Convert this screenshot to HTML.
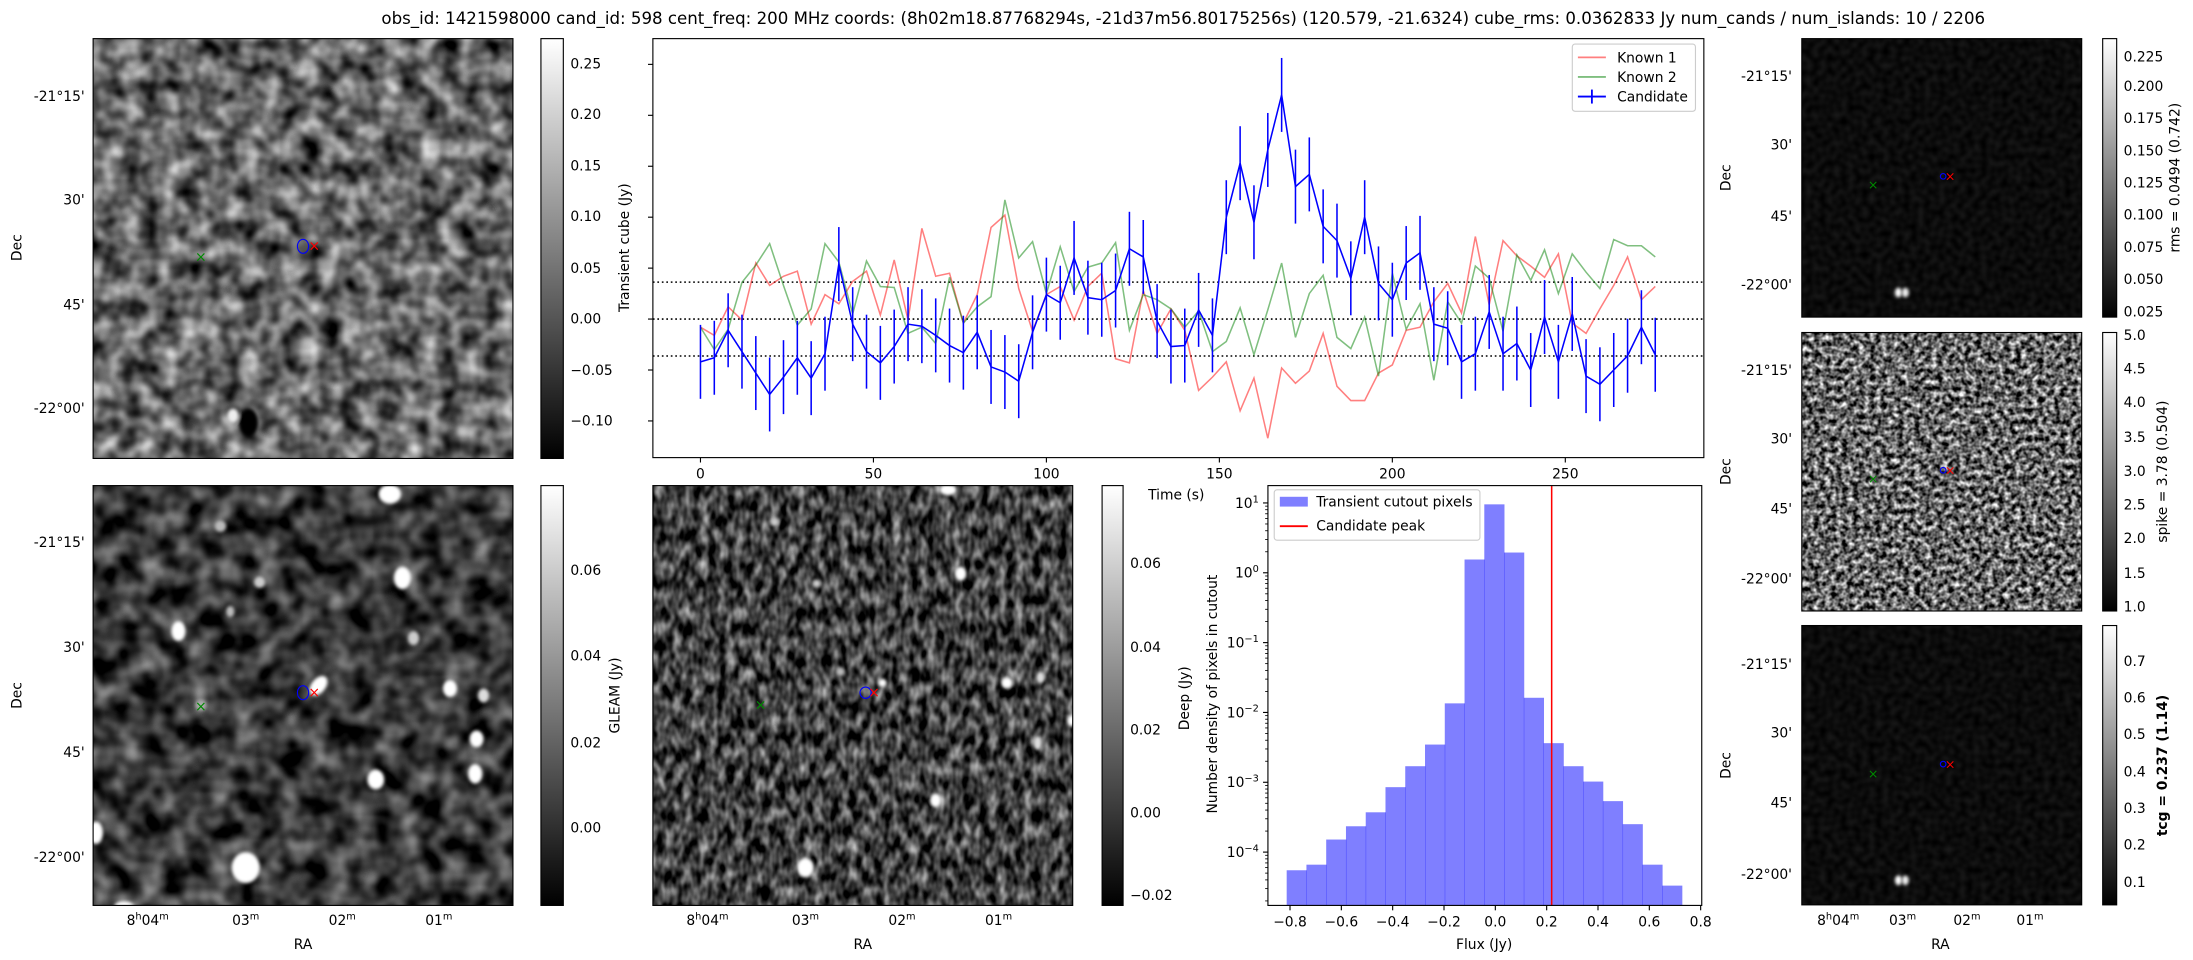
<!DOCTYPE html>
<html><head><meta charset="utf-8"><style>
html,body{margin:0;padding:0;background:#fff;}
svg{display:block;font-family:"DejaVu Sans","Liberation Sans",sans-serif;}
</style></head><body>
<svg id="fig" width="2193" height="960" viewBox="0 0 1566 686" xmlns="http://www.w3.org/2000/svg">
<defs>
<filter id="fA" color-interpolation-filters="sRGB" filterUnits="userSpaceOnUse" x="66" y="27.6" width="300" height="300"><feTurbulence type="fractalNoise" baseFrequency="0.07" numOctaves="2" seed="3"/><feColorMatrix type="matrix" values="1.2 0 0 0 -0.2  1.2 0 0 0 -0.2  1.2 0 0 0 -0.2  0 0 0 0 1"/></filter>
<filter id="fB" color-interpolation-filters="sRGB" filterUnits="userSpaceOnUse" x="66" y="347" width="300" height="300"><feTurbulence type="fractalNoise" baseFrequency="0.06" numOctaves="2" seed="7"/><feColorMatrix type="matrix" values="1.0 0 0 0 -0.28  1.0 0 0 0 -0.28  1.0 0 0 0 -0.28  0 0 0 0 1"/></filter>
<filter id="fC" color-interpolation-filters="sRGB" filterUnits="userSpaceOnUse" x="466" y="347" width="300" height="300"><feTurbulence type="fractalNoise" baseFrequency="0.16 0.09" numOctaves="2" seed="11"/><feColorMatrix type="matrix" values="1.2 0 0 0 -0.35  1.2 0 0 0 -0.35  1.2 0 0 0 -0.35  0 0 0 0 1"/></filter>
<filter id="fM" color-interpolation-filters="sRGB" filterUnits="userSpaceOnUse" x="1287" y="237.6" width="200" height="199"><feTurbulence type="fractalNoise" baseFrequency="0.25" numOctaves="2" seed="5"/><feColorMatrix type="matrix" values="1.8 0 0 0 -0.5  1.8 0 0 0 -0.5  1.8 0 0 0 -0.5  0 0 0 0 1"/></filter>
<filter id="fD1" color-interpolation-filters="sRGB" filterUnits="userSpaceOnUse" x="1287" y="27.6" width="200" height="199"><feTurbulence type="fractalNoise" baseFrequency="0.2" numOctaves="1" seed="9"/><feColorMatrix type="matrix" values="0.15 0 0 0 -0.03  0.15 0 0 0 -0.03  0.15 0 0 0 -0.03  0 0 0 0 1"/></filter>
<filter id="fD2" color-interpolation-filters="sRGB" filterUnits="userSpaceOnUse" x="1287" y="447" width="200" height="199.6"><feTurbulence type="fractalNoise" baseFrequency="0.2" numOctaves="1" seed="13"/><feColorMatrix type="matrix" values="0.15 0 0 0 -0.03  0.15 0 0 0 -0.03  0.15 0 0 0 -0.03  0 0 0 0 1"/></filter>
<filter id="blur" x="-50%" y="-50%" width="200%" height="200%"><feGaussianBlur stdDeviation="1.2"/></filter>
<linearGradient id="gray" x1="0" y1="1" x2="0" y2="0"><stop offset="0" stop-color="#000"/><stop offset="1" stop-color="#fff"/></linearGradient>
<clipPath id="cA"><rect x="66" y="27.6" width="300" height="300"/></clipPath>
<clipPath id="cB"><rect x="66" y="347" width="300" height="300"/></clipPath>
<clipPath id="cC"><rect x="466" y="347" width="300" height="300"/></clipPath>
</defs>

<text x="845" y="17" font-size="11.9" text-anchor="middle" textLength="1146" lengthAdjust="spacingAndGlyphs">obs_id: 1421598000 cand_id: 598 cent_freq: 200 MHz coords: (8h02m18.87768294s, -21d37m56.80175256s) (120.579, -21.6324) cube_rms: 0.0362833 Jy num_cands / num_islands: 10 / 2206</text>

<!-- Panel A -->
<g>
<rect x="66" y="27.6" width="300" height="300" filter="url(#fA)"/>
<g clip-path="url(#cA)" filter="url(#blur)">
<ellipse cx="177" cy="302" rx="7" ry="10" fill="#000"/>
<ellipse cx="166" cy="297" rx="4" ry="5" fill="#eee"/>
</g>
<rect x="66" y="27.6" width="300" height="300" fill="none" stroke="#000" stroke-width="0.8"/>
<text x="143" y="187" font-size="10" fill="#080" text-anchor="middle">×</text>
<ellipse cx="216" cy="176" rx="4" ry="5" fill="none" stroke="#00f" stroke-width="0.8"/>
<text x="224" y="179" font-size="10" fill="#f00" text-anchor="middle">×</text>
</g>
<g font-size="9.9" text-anchor="end">
<text x="60" y="72">-21°15'</text><text x="60" y="146">30'</text><text x="60" y="221">45'</text><text x="60" y="295">-22°00'</text>
</g>
<text font-size="9.9" transform="translate(15,177) rotate(-90)" text-anchor="middle">Dec</text>
<g>
<rect x="386" y="27.6" width="16" height="300" fill="url(#gray)" stroke="#000" stroke-width="0.8"/>
<g font-size="9.9"><text x="407" y="49">0.25</text><text x="407" y="85">0.20</text><text x="407" y="122">0.15</text><text x="407" y="158">0.10</text><text x="407" y="195">0.05</text><text x="407" y="231">0.00</text><text x="407" y="268">−0.05</text><text x="407" y="304">−0.10</text></g>
</g>

<!-- Panel B: GLEAM -->
<g>
<rect x="66" y="347" width="300" height="300" filter="url(#fB)"/>
<g clip-path="url(#cB)" fill="#fff" filter="url(#blur)">
<ellipse cx="278" cy="353" rx="8" ry="7"/><ellipse cx="287" cy="413" rx="6" ry="8"/><ellipse cx="127" cy="451" rx="5" ry="7"/>
<ellipse cx="185" cy="416" rx="4" ry="4" fill="#ccc"/><ellipse cx="157" cy="376" rx="4" ry="4" fill="#bbb"/><ellipse cx="164" cy="437" rx="3" ry="4" fill="#bbb"/>
<ellipse cx="227" cy="490" rx="5" ry="8" transform="rotate(40 227 490)"/><ellipse cx="321" cy="492" rx="5" ry="6"/><ellipse cx="345" cy="497" rx="4" ry="5" fill="#ddd"/>
<ellipse cx="268" cy="557" rx="6" ry="7"/><ellipse cx="340" cy="528" rx="5" ry="6"/><ellipse cx="339" cy="553" rx="5" ry="7"/>
<ellipse cx="175" cy="620" rx="10" ry="11"/><ellipse cx="68" cy="595" rx="5" ry="8"/><ellipse cx="295" cy="456" rx="4" ry="5" fill="#ccc"/><ellipse cx="88" cy="648" rx="7" ry="4"/>
<ellipse cx="143" cy="504" rx="4" ry="4" fill="#aaa"/>
</g>
<rect x="66" y="347" width="300" height="300" fill="none" stroke="#000" stroke-width="0.8"/>
<text x="143" y="508" font-size="10" fill="#080" text-anchor="middle">×</text>
<ellipse cx="216" cy="495" rx="4" ry="5" fill="none" stroke="#00f" stroke-width="0.8"/>
<text x="224" y="498" font-size="10" fill="#f00" text-anchor="middle">×</text>
</g>
<g font-size="9.9" text-anchor="end">
<text x="60" y="391">-21°15'</text><text x="60" y="466">30'</text><text x="60" y="541">45'</text><text x="60" y="616">-22°00'</text>
</g>
<text font-size="9.9" transform="translate(15,497) rotate(-90)" text-anchor="middle">Dec</text>
<g font-size="9.9" text-anchor="middle">
<text x="105" y="661">8<tspan font-size="7" dy="-4">h</tspan><tspan dy="4">04</tspan><tspan font-size="7" dy="-4">m</tspan></text>
<text x="175" y="661">03<tspan font-size="7" dy="-4">m</tspan></text><text x="244" y="661">02<tspan font-size="7" dy="-4">m</tspan></text><text x="313" y="661">01<tspan font-size="7" dy="-4">m</tspan></text>
<text x="216" y="678">RA</text>
</g>
<g>
<rect x="386" y="347" width="16" height="300" fill="url(#gray)" stroke="#000" stroke-width="0.8"/>
<g font-size="9.9"><text x="407" y="411">0.06</text><text x="407" y="472">0.04</text><text x="407" y="534">0.02</text><text x="407" y="595">0.00</text></g>
<text font-size="9.9" transform="translate(442,497) rotate(-90)" text-anchor="middle">GLEAM (Jy)</text>
</g>

<!-- Panel C: Deep -->
<g>
<rect x="466" y="347" width="300" height="300" filter="url(#fC)"/>
<g clip-path="url(#cC)" fill="#fff" filter="url(#blur)">
<ellipse cx="575" cy="620" rx="6" ry="7"/><ellipse cx="668" cy="572" rx="4" ry="5"/><ellipse cx="686" cy="410" rx="4" ry="5"/><ellipse cx="677" cy="350" rx="6" ry="4"/>
<ellipse cx="719" cy="488" rx="4" ry="4"/><ellipse cx="743" cy="484" rx="3" ry="4" fill="#ddd"/><ellipse cx="741" cy="531" rx="3" ry="5" fill="#ddd"/>
<ellipse cx="553" cy="373" rx="3" ry="3" fill="#ccc"/><ellipse cx="583" cy="417" rx="3" ry="3" fill="#ccc"/><ellipse cx="630" cy="488" rx="3" ry="3"/><ellipse cx="765" cy="515" rx="3" ry="4"/>
<ellipse cx="600" cy="480" rx="3" ry="3" fill="#bbb"/>
</g>
<rect x="466" y="347" width="300" height="300" fill="none" stroke="#000" stroke-width="0.8"/>
<text x="543" y="507" font-size="10" fill="#080" text-anchor="middle">×</text>
<ellipse cx="618" cy="495" rx="4" ry="4" fill="none" stroke="#00f" stroke-width="0.8"/>
<text x="624" y="498" font-size="10" fill="#f00" text-anchor="middle">×</text>
</g>
<g font-size="9.9" text-anchor="middle">
<text x="505" y="661">8<tspan font-size="7" dy="-4">h</tspan><tspan dy="4">04</tspan><tspan font-size="7" dy="-4">m</tspan></text>
<text x="575" y="661">03<tspan font-size="7" dy="-4">m</tspan></text><text x="644" y="661">02<tspan font-size="7" dy="-4">m</tspan></text><text x="713" y="661">01<tspan font-size="7" dy="-4">m</tspan></text>
<text x="616" y="678">RA</text>
</g>
<g>
<rect x="787" y="347" width="15" height="300" fill="url(#gray)" stroke="#000" stroke-width="0.8"/>
<g font-size="9.9"><text x="807" y="406">0.06</text><text x="807" y="466">0.04</text><text x="807" y="525">0.02</text><text x="807" y="584">0.00</text><text x="807" y="643">−0.02</text></g>
<text font-size="9.9" transform="translate(849,499) rotate(-90)" text-anchor="middle">Deep (Jy)</text>
</g>

<!-- Right panels -->
<g>
<rect x="1287" y="27.6" width="200" height="199" filter="url(#fD1)"/>
<ellipse cx="1356" cy="209" rx="2.5" ry="3.5" fill="#fff" filter="url(#blur)"/><ellipse cx="1361" cy="209" rx="2.5" ry="3.5" fill="#eee" filter="url(#blur)"/>
<rect x="1287" y="27.6" width="200" height="199" fill="none" stroke="#000" stroke-width="0.8"/>
<text x="1338" y="135" font-size="9" fill="#080" text-anchor="middle">×</text>
<circle cx="1388" cy="126" r="2" fill="none" stroke="#00f" stroke-width="0.8"/>
<text x="1393" y="129" font-size="9" fill="#f00" text-anchor="middle">×</text>
</g>
<g>
<rect x="1287" y="237.6" width="200" height="199" filter="url(#fM)"/>
<rect x="1287" y="237.6" width="200" height="199" fill="none" stroke="#000" stroke-width="0.8"/>
<text x="1338" y="345" font-size="9" fill="#080" text-anchor="middle">×</text>
<circle cx="1388" cy="336" r="2" fill="none" stroke="#00f" stroke-width="0.8"/>
<text x="1393" y="339" font-size="9" fill="#f00" text-anchor="middle">×</text>
</g>
<g>
<rect x="1287" y="447" width="200" height="199.6" filter="url(#fD2)"/>
<ellipse cx="1356" cy="629" rx="2.5" ry="3.5" fill="#fff" filter="url(#blur)"/><ellipse cx="1361" cy="629" rx="2.5" ry="3.5" fill="#eee" filter="url(#blur)"/>
<rect x="1287" y="447" width="200" height="199.6" fill="none" stroke="#000" stroke-width="0.8"/>
<text x="1338" y="556" font-size="9" fill="#080" text-anchor="middle">×</text>
<circle cx="1388" cy="546" r="2" fill="none" stroke="#00f" stroke-width="0.8"/>
<text x="1393" y="549" font-size="9" fill="#f00" text-anchor="middle">×</text>
</g>
<g font-size="9.9" text-anchor="end">
<text x="1280" y="58">-21°15'</text><text x="1280" y="107">30'</text><text x="1280" y="158">45'</text><text x="1280" y="207">-22°00'</text>
<text x="1280" y="268">-21°15'</text><text x="1280" y="317">30'</text><text x="1280" y="367">45'</text><text x="1280" y="417">-22°00'</text>
<text x="1280" y="478">-21°15'</text><text x="1280" y="527">30'</text><text x="1280" y="577">45'</text><text x="1280" y="628">-22°00'</text>
</g>
<g font-size="9.9" text-anchor="middle">
<text transform="translate(1236,127) rotate(-90)">Dec</text><text transform="translate(1236,337) rotate(-90)">Dec</text><text transform="translate(1236,547) rotate(-90)">Dec</text>
</g>
<g font-size="9.9" text-anchor="middle">
<text x="1313" y="661">8<tspan font-size="7" dy="-4">h</tspan><tspan dy="4">04</tspan><tspan font-size="7" dy="-4">m</tspan></text>
<text x="1359" y="661">03<tspan font-size="7" dy="-4">m</tspan></text><text x="1405" y="661">02<tspan font-size="7" dy="-4">m</tspan></text><text x="1450" y="661">01<tspan font-size="7" dy="-4">m</tspan></text>
<text x="1386" y="678">RA</text>
</g>
<g>
<rect x="1502" y="27.6" width="10" height="199" fill="url(#gray)" stroke="#000" stroke-width="0.8"/>
<g font-size="9.9"><text x="1517" y="44">0.225</text><text x="1517" y="65">0.200</text><text x="1517" y="88">0.175</text><text x="1517" y="111">0.150</text><text x="1517" y="134">0.125</text><text x="1517" y="157">0.100</text><text x="1517" y="180">0.075</text><text x="1517" y="203">0.050</text><text x="1517" y="226">0.025</text></g>
<text font-size="9.9" transform="translate(1557,127) rotate(-90)" text-anchor="middle">rms = 0.0494 (0.742)</text>
</g>
<g>
<rect x="1502" y="237.6" width="10" height="199" fill="url(#gray)" stroke="#000" stroke-width="0.8"/>
<g font-size="9.9"><text x="1517" y="243">5.0</text><text x="1517" y="267">4.5</text><text x="1517" y="291">4.0</text><text x="1517" y="316">3.5</text><text x="1517" y="340">3.0</text><text x="1517" y="364">2.5</text><text x="1517" y="388">2.0</text><text x="1517" y="413">1.5</text><text x="1517" y="437">1.0</text></g>
<text font-size="9.9" transform="translate(1548,337) rotate(-90)" text-anchor="middle">spike = 3.78 (0.504)</text>
</g>
<g>
<rect x="1502" y="447" width="10" height="199.6" fill="url(#gray)" stroke="#000" stroke-width="0.8"/>
<g font-size="9.9"><text x="1517" y="476">0.7</text><text x="1517" y="502">0.6</text><text x="1517" y="528">0.5</text><text x="1517" y="555">0.4</text><text x="1517" y="581">0.3</text><text x="1517" y="607">0.2</text><text x="1517" y="634">0.1</text></g>
<text font-size="9.9" font-weight="bold" transform="translate(1548,547) rotate(-90)" text-anchor="middle">tcg = 0.237 (1.14)</text>
</g>

<!-- Time series -->
<g id="ts">
<rect x="466" y="27.6" width="751" height="299.4" fill="#fff" stroke="#000" stroke-width="0.8"/>
<text font-size="9.9" transform="translate(449,177) rotate(-90)" text-anchor="middle">Transient cube (Jy)</text>
<text font-size="9.9" x="840" y="357" text-anchor="middle">Time (s)</text>
</g>
<!-- Histogram -->
<g id="hist">
<text font-size="9.9" transform="translate(869,496) rotate(-90)" text-anchor="middle">Number density of pixels in cutout</text>
<text font-size="9.9" x="1060" y="678" text-anchor="middle">Flux (Jy)</text>
</g>
</svg>
<script>
const times = [0,4,8,12,16,20,24,28,32,36,40,44,48,52,56,60,64,68,72,76,80,84,88,92,96,100,104,108,112,116,120,124,128,132,136,140,144,148,152,156,160,164,168,172,176,180,184,188,192,196,200,204,208,212,216,220,224,228,232,236,240,244,248,252,256,260,264,268,272,276];
const candidate = [-0.042,-0.038,-0.011,-0.032,-0.053,-0.074,-0.057,-0.038,-0.058,-0.034,0.054,-0.005,-0.032,-0.043,-0.027,-0.005,-0.007,-0.016,-0.026,-0.033,-0.013,-0.047,-0.052,-0.061,-0.013,0.024,0.016,0.060,0.021,0.019,0.028,0.069,0.061,-0.002,-0.027,-0.026,0.009,-0.016,0.100,0.153,0.095,0.166,0.220,0.130,0.142,0.091,0.077,0.040,0.100,0.035,0.019,0.055,0.065,-0.005,-0.009,-0.042,-0.034,0.007,-0.034,-0.024,-0.050,0.002,-0.042,0.005,-0.056,-0.064,-0.050,-0.036,-0.008,-0.035];
const candErr = 0.0363;
const known1 = [-0.008,-0.016,0.012,-0.001,0.055,0.033,0.042,0.047,-0.005,0.024,0.015,0.037,0.047,0.004,0.058,-0.001,0.089,0.042,0.045,-0.004,0.024,0.090,0.102,0.030,-0.012,0.024,0.032,-0.001,0.032,0.045,-0.039,-0.043,0.028,-0.014,0.010,-0.011,-0.070,-0.057,-0.042,-0.090,-0.058,-0.117,-0.048,-0.063,-0.051,-0.014,-0.066,-0.080,-0.080,-0.053,-0.045,-0.011,-0.008,0.017,0.035,0.006,0.081,0.014,0.077,0.062,0.052,0.041,0.064,-0.004,-0.014,0.010,0.033,0.061,0.019,0.032];
const known2 = [-0.008,-0.030,-0.010,0.036,0.053,0.074,0.033,-0.006,0.010,0.074,0.056,0.005,0.057,0.032,0.031,-0.014,-0.008,-0.024,0.041,-0.004,0.012,0.022,0.117,0.060,0.076,0.025,0.071,0.027,0.051,0.055,0.075,-0.011,0.024,0.019,0.010,-0.008,0.008,-0.032,-0.022,0.011,-0.035,0.009,0.055,-0.018,0.025,0.043,-0.018,-0.029,0.002,-0.056,0.045,-0.010,0.015,-0.060,0.017,-0.004,0.052,0.040,-0.012,0.063,0.038,0.068,0.025,0.064,0.046,0.030,0.078,0.072,0.072,0.061];
const rmsLevel = 0.0362833;
const timeTicks = [0,50,100,150,200,250];
const yTicks = [0.25,0.20,0.15,0.10,0.05,0.00,-0.05,-0.10];

const histEdgesStart = -0.813;
const histBinWidth = 0.077;
const histLog10 = [-4.26,-4.18,-3.82,-3.63,-3.43,-3.07,-2.77,-2.46,-1.87,0.19,0.98,0.29,-1.79,-2.44,-2.77,-2.99,-3.27,-3.60,-4.18,-4.48];
const candidatePeak = 0.2195;
const fluxTicks = [-0.8,-0.6,-0.4,-0.2,0.0,0.2,0.4,0.6,0.8];
const decadeTicks = [1,0,-1,-2,-3,-4];

const NS = 'http://www.w3.org/2000/svg';
function mk(tag, attrs, parent){const e=document.createElementNS(NS,tag);for(const k in attrs)e.setAttribute(k,attrs[k]);parent.appendChild(e);return e;}
const tx = t => 500 + t*2.472;
const ty = v => 228 - v*728;
const ts = document.getElementById('ts');

yTicks.forEach(v=>{const l=mk('line',{x1:462.5,x2:466,y1:ty(v),y2:ty(v),stroke:'#000','stroke-width':0.8},ts);

});
timeTicks.forEach(t=>{const l=mk('line',{x1:tx(t),x2:tx(t),y1:327,y2:330.5,stroke:'#000','stroke-width':0.8},ts);


const s=mk('text',{x:tx(t),y:342,'font-size':9.9,'text-anchor':'middle'},ts);s.textContent=String(t);

});
[-rmsLevel,0,rmsLevel].forEach(v=>{const l=mk('line',{x1:466,x2:1217,y1:ty(v),y2:ty(v),stroke:'#000','stroke-width':1.1,'stroke-dasharray':'1.2,2'},ts);

});
function series(arr,color,op,name){const p=mk('polyline',{points:arr.map((v,i)=>tx(times[i])+','+ty(v)).join(' '),fill:'none',stroke:color,'stroke-opacity':op,'stroke-width':1.1},ts);

}
series(known1,'#ff0000',0.5,'known-1-line');
series(known2,'#008000',0.5,'known-2-line');
candidate.forEach((v,i)=>{const l=mk('line',{x1:tx(times[i]),x2:tx(times[i]),y1:ty(v-candErr),y2:ty(v+candErr),stroke:'#0000ff','stroke-width':1.1},ts);

});
series(candidate,'#0000ff',1,'candidate-line');
const lg=mk('g',{},ts);


mk('rect',{x:1123,y:31.5,width:88,height:48,rx:2,fill:'#fff','fill-opacity':0.8,stroke:'#ccc','stroke-width':0.8},lg);
[['Known 1','#ff0000',0.5,41],['Known 2','#008000',0.5,55],['Candidate','#0000ff',1,69]].forEach(e=>{
mk('line',{x1:1127,x2:1147,y1:e[3],y2:e[3],stroke:e[1],'stroke-opacity':e[2],'stroke-width':1.3},lg);
if(e[0]==='Candidate')mk('line',{x1:1137,x2:1137,y1:e[3]-5,y2:e[3]+5,stroke:e[1],'stroke-width':1.3},lg);
const s=mk('text',{x:1155,y:e[3]+3.5,'font-size':9.9},lg);s.textContent=e[0];

});

const hg=document.getElementById('hist');
const hx = f => 1068 + f*183.4;
const hy = d => 359.4 + (1-d)*49.9;
const hb = 647;
histLog10.forEach((d,i)=>{const x0=hx(histEdgesStart+i*histBinWidth),x1=hx(histEdgesStart+(i+1)*histBinWidth);
const r=mk('rect',{x:x0,y:hy(d),width:x1-x0+0.3,height:hb-hy(d),fill:'#0000ff','fill-opacity':0.5},hg);

});
const pk=mk('line',{x1:hx(candidatePeak),x2:hx(candidatePeak),y1:347,y2:647,stroke:'#ff0000','stroke-width':1.1},hg);


mk('rect',{x:905.5,y:347,width:310,height:300,fill:'none',stroke:'#000','stroke-width':0.8},hg);
fluxTicks.forEach(f=>{mk('line',{x1:hx(f),x2:hx(f),y1:647,y2:650.5,stroke:'#000','stroke-width':0.8},hg);
const s=mk('text',{x:hx(f),y:662,'font-size':9.9,'text-anchor':'middle'},hg);s.textContent=(f<0?'−':'')+Math.abs(f).toFixed(1);

});
decadeTicks.forEach(d=>{mk('line',{x1:902,x2:905.5,y1:hy(d),y2:hy(d),stroke:'#000','stroke-width':0.8},hg);
for(let m=2;m<10;m++){const yy=hy(d-1+Math.log10(m));if(yy>347&&yy<647)mk('line',{x1:903.5,x2:905.5,y1:yy,y2:yy,stroke:'#000','stroke-width':0.6},hg);}
const s=mk('text',{x:899,y:hy(d)+3.5,'font-size':9.9,'text-anchor':'end'},hg);s.textContent='10';
const sp=mk('tspan',{'font-size':7,dy:-4},s);sp.textContent=(d<0?'−':'')+Math.abs(d);

});
const hl=mk('g',{},hg);


mk('rect',{x:910,y:350,width:147,height:36,rx:2,fill:'#fff','fill-opacity':0.8,stroke:'#ccc','stroke-width':0.8},hl);
mk('rect',{x:914,y:355,width:20,height:7,fill:'#0000ff','fill-opacity':0.5},hl);
mk('line',{x1:914,x2:934,y1:376,y2:376,stroke:'#ff0000','stroke-width':1.3},hl);
let t1=mk('text',{x:940,y:362,'font-size':9.9},hl);t1.textContent='Transient cutout pixels';
let t2=mk('text',{x:940,y:379,'font-size':9.9},hl);t2.textContent='Candidate peak';
</script>
</body></html>
